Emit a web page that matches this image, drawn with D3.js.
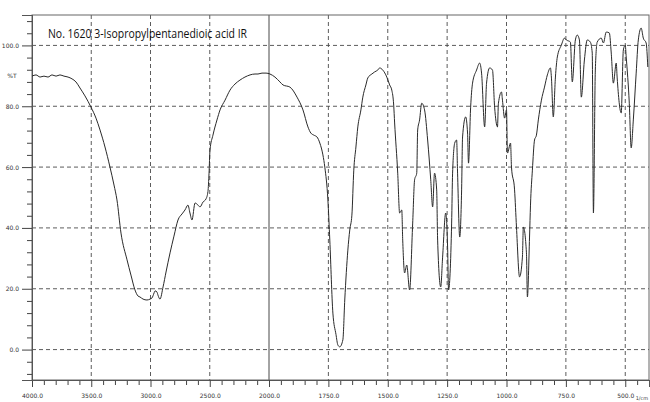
<!DOCTYPE html>
<html>
<head>
<meta charset="utf-8">
<script src="https://cdn.jsdelivr.net/npm/d3@7"></script>
<style>
  html, body { margin: 0; padding: 0; background: #fff; }
  svg { display: block; }
</style>
</head>
<body>
<svg id="chart" width="650" height="402"></svg>
<script>
// ---- data ----
const title = "No. 1620 3-Isopropylpentanedioic acid IR";
const unitLabel = "1/cm";
const yUnitLabel = "%T";

const wavenumber = [
  4000,3966,3932,3899,3865,3831,3797,3764,3730,3696,3662,3629,3595,3553,3502,3460,3426,3384,3342,3308,
  3283,3249,3198,3165,3131,3105,3089,3063,3030,3004,2987,2970,2962,2945,2937,2920,2894,2869,2835,2802,
  2768,2734,2709,2684,2667,2650,2624,2599,2582,2557,2532,2515,2506,2498,2473,2439,2413,2371,2329,2287,
  2245,2203,2160,2118,2093,2059,2025,1996,1975,1954,1941,1912,1882,1857,1836,1824,1811,1798,1786,1773,
  1765,1752,1744,1731,1718,1710,1702,1689,1681,1668,1660,1651,1643,1634,1626,1613,1605,1592,1584,1567,
  1555,1542,1534,1521,1504,1492,1483,1475,1471,1458,1450,1441,1437,1429,1420,1408,1395,1387,1378,1374,
  1366,1357,1345,1332,1319,1311,1303,1294,1290,1277,1269,1256,1248,1244,1231,1227,1218,1210,1206,1197,
  1189,1185,1172,1164,1160,1151,1143,1126,1113,1105,1092,1084,1071,1059,1050,1038,1034,1021,1017,1008,
  1000,996,983,979,966,958,945,933,929,916,912,903,899,891,882,874,866,853,840,828,
  815,811,803,794,786,769,756,748,731,723,710,702,693,685,672,660,647,639,634,626,
  618,601,592,580,567,559,550,538,534,517,508,500,496,483,475,466,454,445,433,424,
  412,405
];
const transmittance = [
  89.9,90.3,89.6,89.9,89.6,90.3,89.9,90.3,89.9,89.6,89.0,88.0,86.0,83.4,79.7,76.1,72.2,66.6,60.0,54.1,
  49.2,38.3,29.5,24.5,19.6,17.6,17.3,16.6,16.3,16.6,17.0,18.6,19.3,18.9,17.9,16.6,20.6,25.5,31.8,37.3,
  42.6,44.6,45.9,47.5,44.9,42.6,48.2,47.5,46.9,48.5,49.5,52.0,58.0,65.6,70.5,75.5,78.8,82.0,85.3,87.3,
  88.6,89.6,90.3,90.6,90.6,90.9,90.9,90.6,89.6,88.0,87.0,86.3,83.0,78.8,73.2,71.2,70.5,69.9,67.9,64.0,
  60.0,49.2,36.0,12.0,5.0,1.5,0.9,3.2,16.3,32.7,39.3,44.2,59.0,66.6,73.2,78.8,83.0,87.0,89.3,90.6,
  91.3,91.9,92.6,91.9,89.6,87.0,85.3,80.4,74.5,58.0,44.9,45.9,36.0,25.2,27.8,19.6,41.6,55.8,58.0,72.2,
  75.5,81.0,78.8,68.9,55.8,46.9,58.0,52.5,36.0,20.6,30.4,44.9,33.7,19.6,41.6,58.0,67.9,68.9,58.0,37.0,
  52.5,69.9,76.5,71.2,61.3,79.7,87.6,91.9,94.2,90.9,73.2,87.6,92.6,91.9,79.7,73.2,81.0,84.7,82.0,76.1,
  78.8,64.6,67.9,60.0,52.5,40.3,23.9,30.4,40.3,31.8,17.3,37.0,47.5,59.0,68.9,70.5,75.5,82.0,86.3,90.3,
  92.6,89.6,76.5,89.6,96.2,100.1,102.4,101.8,101.1,88.0,101.8,103.4,101.8,83.0,95.2,101.8,101.1,97.5,44.9,91.9,
  101.1,102.4,100.8,104.4,104.1,97.5,87.6,94.2,89.3,77.8,98.5,100.1,96.2,81.0,66.3,75.5,90.9,101.8,105.7,102.4,
  100.8,92.9
];
const xMajorTicks = [4000,3500,3000,2500,2000,1750,1500,1250,1000,750,500];
const xTickLabels = ["4000.0","3500.0","3000.0","2500.0","2000.0","1750.0","1500.0","1250.0","1000.0","750.0","500.0"];
const yMajorTicks = [0,20,40,60,80,100];
const yTickLabels = ["0.0","20.0","40.0","60.0","80.0","100.0"];

// ---- drawing ----
const svg = d3.select("#chart");
const x = d3.scaleLinear().domain([4000, 2000, 400]).range([32, 269, 649]);
const y = d3.scaleLinear().domain([-10, 110]).range([380, 15]);
const gridColor = "#4a4a4a";

// minor tick values
const xMinor = d3.range(4000, 2000, -100).concat(d3.range(2000, 399, -50))
  .filter(v => !xMajorTicks.includes(v));
const yMinor = d3.range(-8, 110, 4).filter(v => !yMajorTicks.includes(v));

// grid
const grid = svg.append("g");
grid.selectAll("line.hg").data(yMajorTicks).join("line")
  .attr("x1", x(4000)).attr("x2", x(400))
  .attr("y1", d => y(d)).attr("y2", d => y(d))
  .attr("stroke", gridColor).attr("stroke-width", 0.9)
  .attr("stroke-dasharray", "4,3");
grid.selectAll("line.vg").data(xMajorTicks.filter(v => v !== 4000)).join("line")
  .attr("x1", d => x(d)).attr("x2", d => x(d))
  .attr("y1", y(110)).attr("y2", y(-10))
  .attr("stroke", d => d === 2000 ? "#333" : gridColor).attr("stroke-width", 0.9)
  .attr("stroke-dasharray", d => d === 2000 ? null : "4,3");

// frame
svg.append("rect")
  .attr("x", x(4000)).attr("y", y(110))
  .attr("width", x(400) - x(4000)).attr("height", y(-10) - y(110))
  .attr("fill", "none").attr("stroke", "#666").attr("stroke-width", 1);

// x axis
const xAxisMinor = d3.axisBottom(x).tickValues(xMinor).tickSize(5).tickFormat("");
const xAxisMajor = d3.axisBottom(x).tickValues(xMajorTicks).tickSize(7).tickPadding(7)
  .tickFormat((d, i) => xTickLabels[i]);
const gxm = svg.append("g").attr("transform", `translate(0,${y(-10)})`).call(xAxisMinor);
const gx = svg.append("g").attr("transform", `translate(0,${y(-10)})`).call(xAxisMajor);
[gxm, gx].forEach(g => {
  g.select(".domain").attr("stroke", "#555");
  g.selectAll(".tick line").attr("stroke", "#444");
});
gx.selectAll(".tick text").attr("font-family", "DejaVu Sans").attr("font-size", 6).attr("fill", "#333");

// y axis
const yAxisMinor = d3.axisLeft(y).tickValues(yMinor).tickSize(5).tickFormat("");
const yAxisMajor = d3.axisLeft(y).tickValues(yMajorTicks).tickSize(10).tickPadding(3)
  .tickFormat((d, i) => yTickLabels[i]);
const gym = svg.append("g").attr("transform", `translate(${x(4000)},0)`).call(yAxisMinor);
const gy = svg.append("g").attr("transform", `translate(${x(4000)},0)`).call(yAxisMajor);
[gym, gy].forEach(g => {
  g.select(".domain").attr("stroke", "#555");
  g.selectAll(".tick line").attr("stroke", "#444");
});
gy.selectAll(".tick text").attr("font-family", "DejaVu Sans").attr("font-size", 6).attr("fill", "#333");

svg.append("text").attr("x", x(4000) - 20).attr("y", y(90)).attr("dy", "0.35em")
  .attr("text-anchor", "middle").attr("font-family", "DejaVu Sans").attr("font-size", 6)
  .attr("fill", "#333").text(yUnitLabel);
svg.append("text").attr("x", x(430)).attr("y", 400)
  .attr("text-anchor", "middle").attr("font-family", "DejaVu Sans").attr("font-size", 5)
  .attr("fill", "#444").text(unitLabel);

// spectrum
const pts = wavenumber.map((w, i) => [w, transmittance[i]]);
const line = d3.line().x(d => x(d[0])).y(d => y(d[1])).curve(d3.curveMonotoneX);
svg.append("path").datum(pts)
  .attr("d", line)
  .attr("fill", "none").attr("stroke", "#2a2a2a").attr("stroke-width", 1)
  .attr("stroke-linejoin", "round");

// title
svg.append("text").attr("x", 48).attr("y", 38)
  .attr("font-family", "Open Sans").attr("font-size", 13).attr("fill", "#111")
  .attr("textLength", 199).attr("lengthAdjust", "spacingAndGlyphs")
  .text(title);
</script>
</body>
</html>
